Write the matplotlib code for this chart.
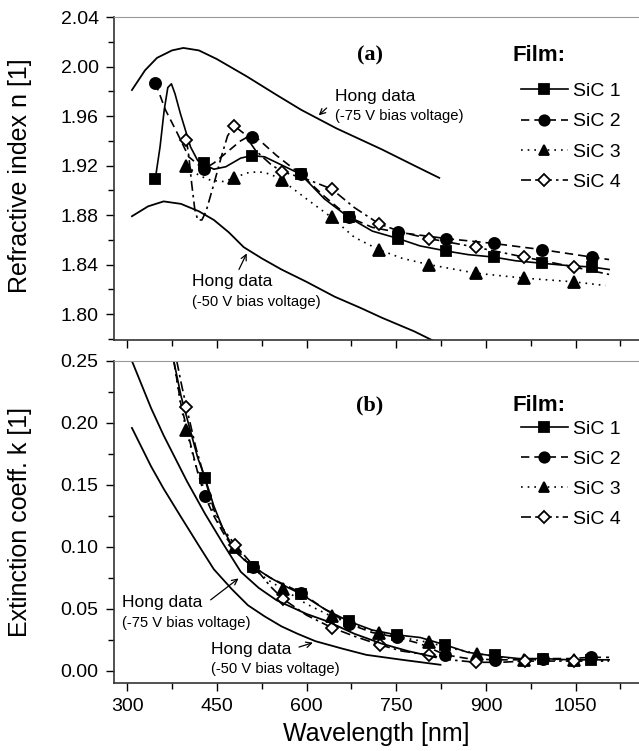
import matplotlib
matplotlib.use('Agg')
import matplotlib.pyplot as plt
from matplotlib.lines import Line2D
from matplotlib.ticker import MultipleLocator, FormatStrFormatter

plt.rcParams['font.family'] = ['Liberation Sans', 'DejaVu Sans']

# ---------- (a) refractive index n ----------
# measured points (markers)
wl_a_12 = [347, 428, 509, 590, 671, 753, 833, 913, 994, 1077]
n_sic1 = [1.909, 1.922, 1.928, 1.913, 1.878, 1.861, 1.851, 1.846, 1.841, 1.838]
n_sic2 = [1.987, 1.917, 1.943, 1.913, 1.878, 1.866, 1.861, 1.857, 1.852, 1.846]
wl_a_34 = [399, 479, 559, 642, 721, 804, 883, 964, 1047]
n_sic3 = [1.920, 1.910, 1.908, 1.878, 1.852, 1.840, 1.833, 1.829, 1.826]
n_sic4 = [1.941, 1.952, 1.915, 1.901, 1.873, 1.861, 1.854, 1.846, 1.838]

# model curves
wl_a_c1 = [347, 355, 362, 368, 374, 380, 389, 406, 418, 428, 445, 465, 490, 509, 530, 560,
           590, 630, 671, 710, 753, 790, 833, 870, 913, 950, 994, 1040, 1077, 1106]
n_c1 = [1.909, 1.935, 1.965, 1.983, 1.986, 1.978, 1.962, 1.935, 1.924, 1.921, 1.917, 1.919,
        1.926, 1.928, 1.927, 1.920, 1.913, 1.893, 1.878, 1.867, 1.861, 1.855, 1.851, 1.848,
        1.846, 1.843, 1.841, 1.839, 1.838, 1.836]
wl_a_c2 = [347, 364, 384, 403, 428, 445, 470, 490, 505, 520, 550, 590, 630, 672, 710, 753,
           833, 913, 994, 1077, 1106]
n_c2 = [1.987, 1.965, 1.946, 1.927, 1.917, 1.922, 1.932, 1.940, 1.944, 1.941, 1.928, 1.913,
        1.895, 1.878, 1.870, 1.866, 1.861, 1.857, 1.852, 1.846, 1.844]
wl_a_c3 = [399, 420, 440, 462, 479, 500, 520, 540, 559, 600, 642, 680, 721, 760, 804, 883,
           964, 1047, 1100]
n_c3 = [1.920, 1.912, 1.908, 1.907, 1.910, 1.914, 1.915, 1.913, 1.908, 1.893, 1.878, 1.862,
        1.852, 1.845, 1.840, 1.833, 1.829, 1.826, 1.823]
wl_a_c4 = [399, 403, 408, 413, 418, 425, 432, 445, 458, 468, 479, 495, 515, 540, 559, 600,
           642, 680, 721, 760, 804, 883, 964, 1047, 1106]
n_c4 = [1.941, 1.928, 1.905, 1.885, 1.876, 1.876, 1.883, 1.905, 1.928, 1.944, 1.952, 1.946,
        1.932, 1.921, 1.915, 1.909, 1.901, 1.886, 1.873, 1.866, 1.861, 1.854, 1.846, 1.838,
        1.832]

# Hong data
wl_hong75_a = [308, 330, 350, 375, 394, 420, 450, 500, 550, 591, 650, 726, 780, 822]
n_hong75 = [1.981, 1.997, 2.007, 2.013, 2.015, 2.013, 2.006, 1.992, 1.977, 1.965, 1.950,
            1.933, 1.920, 1.910]
wl_hong50_a = [308, 335, 361, 390, 420, 445, 470, 495, 525, 558, 600, 647, 690, 726, 780, 822]
n_hong50 = [1.879, 1.887, 1.891, 1.889, 1.883, 1.876, 1.866, 1.854, 1.845, 1.836, 1.826,
            1.814, 1.805, 1.797, 1.786, 1.776]

# ---------- (b) extinction coefficient k ----------
wl_b_12 = [430, 511, 591, 671, 752, 832, 915, 996, 1075]
k_sic1 = [0.156, 0.084, 0.062, 0.040, 0.029, 0.021, 0.013, 0.010, 0.009]
k_sic2 = [0.141, 0.084, 0.063, 0.038, 0.027, 0.013, 0.009, 0.010, 0.011]
wl_b_3 = [399, 480, 561, 642, 721, 804, 885, 964, 1047]
k_sic3 = [0.194, 0.100, 0.066, 0.044, 0.031, 0.023, 0.014, 0.009, 0.009]
wl_b_4 = [399, 480, 561, 642, 723, 804, 883, 966, 1047]
k_sic4 = [0.213, 0.102, 0.058, 0.035, 0.021, 0.013, 0.007, 0.008, 0.008]

wl_b_c12 = [378, 390, 405, 418, 430, 445, 460, 480, 495, 511, 540, 570, 591, 630, 671, 710,
            752, 790, 832, 870, 915, 955, 996, 1040, 1075, 1106]
k_c1 = [0.250, 0.222, 0.195, 0.172, 0.156, 0.133, 0.115, 0.097, 0.090, 0.084, 0.075, 0.067,
        0.062, 0.050, 0.040, 0.033, 0.029, 0.027, 0.021, 0.015, 0.012, 0.010, 0.010, 0.009,
        0.009, 0.009]
k_c2 = [0.250, 0.215, 0.185, 0.160, 0.141, 0.125, 0.112, 0.097, 0.090, 0.084, 0.075, 0.068,
        0.063, 0.050, 0.038, 0.031, 0.027, 0.022, 0.013, 0.010, 0.009, 0.009, 0.010, 0.010,
        0.011, 0.011]
wl_b_c3 = [378, 390, 399, 415, 430, 450, 465, 480, 511, 540, 561, 600, 642, 680, 721, 760,
           804, 845, 885, 925, 964, 1005, 1047, 1106]
k_c3 = [0.250, 0.213, 0.194, 0.165, 0.145, 0.122, 0.108, 0.100, 0.082, 0.072, 0.066, 0.054,
        0.044, 0.037, 0.031, 0.027, 0.023, 0.018, 0.014, 0.011, 0.009, 0.009, 0.009, 0.009]
wl_b_c4 = [383, 390, 399, 415, 430, 445, 460, 480, 511, 540, 561, 600, 642, 680, 723, 760,
           804, 840, 883, 925, 966, 1005, 1047, 1106]
k_c4 = [0.250, 0.233, 0.213, 0.180, 0.155, 0.130, 0.115, 0.102, 0.085, 0.068, 0.058, 0.045,
        0.035, 0.028, 0.021, 0.016, 0.013, 0.009, 0.007, 0.007, 0.008, 0.008, 0.008, 0.008]

wl_hong75_b = [308, 340, 361, 400, 430, 460, 490, 520, 550, 600, 635, 680, 726, 770, 816]
k_hong75 = [0.250, 0.212, 0.190, 0.153, 0.127, 0.103, 0.080, 0.067, 0.057, 0.046, 0.040,
            0.030, 0.022, 0.016, 0.011]
wl_hong50_b = [308, 340, 361, 389, 420, 445, 475, 502, 530, 558, 585, 615, 660, 700, 760, 824]
k_hong50 = [0.196, 0.165, 0.147, 0.125, 0.101, 0.082, 0.066, 0.053, 0.044, 0.036, 0.030,
            0.024, 0.018, 0.013, 0.009, 0.005]

labels = ['SiC 1', 'SiC 2', 'SiC 3', 'SiC 4']
dashes = [None, (5, 3), (1, 3), (6, 2.5, 1.5, 2.5)]
markers = ['s', 'o', '^', 'D']
msizes = [7, 8, 8, 6.5]
mfaces = ['black', 'black', 'black', 'white']

W, H = 639, 751
fig = plt.figure(figsize=(W / 100, H / 100), dpi=100)
ax1 = fig.add_axes([114 / W, 1 - 340 / H, (W - 114) / W, 323 / H])
ax2 = fig.add_axes([114 / W, 1 - 683 / H, (W - 114) / W, 322 / H])


def draw_series(ax, curves, points):
    for i in range(4):
        cx, cy = curves[i]
        px, py = points[i]
        ln, = ax.plot(cx, cy, color='black', lw=1.2)
        if dashes[i] is not None:
            ln.set_dashes(dashes[i])
        ax.plot(px, py, ls='none', marker=markers[i], ms=msizes[i], mfc=mfaces[i],
                mec='black', mew=1.3)


def style_axis(ax):
    ax.set_xlim(278, 1156)
    ax.xaxis.set_major_locator(MultipleLocator(150))
    ax.xaxis.set_minor_locator(MultipleLocator(75))
    ax.tick_params(which='both', direction='out', width=1, labelsize=14, pad=5)
    ax.tick_params(which='major', length=6)
    ax.tick_params(which='minor', length=4)
    ax.spines['right'].set_visible(False)
    ax.spines['top'].set_color('#999999')
    ax.spines['left'].set_color('#333333')
    ax.spines['bottom'].set_color('#333333')
    ax.spines['left'].set_linewidth(1.2)
    ax.spines['bottom'].set_linewidth(1.2)


def legend_box(ax, y_top):
    handles = []
    for i in range(4):
        h = Line2D([], [], color='black', lw=1.2, marker=markers[i], ms=msizes[i] - 0.5,
                   mfc=mfaces[i], mec='black', mew=1.3)
        if dashes[i] is not None:
            h.set_dashes(dashes[i])
        handles.append(h)
    ax.legend(handles, labels, loc='upper left', bbox_to_anchor=(0.775, y_top),
              frameon=False, fontsize=14, handlelength=2.4, handletextpad=0.3,
              labelspacing=0.65, borderpad=0, borderaxespad=0)


# Panel (a)
draw_series(ax1,
            [(wl_a_c1, n_c1), (wl_a_c2, n_c2), (wl_a_c3, n_c3), (wl_a_c4, n_c4)],
            [(wl_a_12, n_sic1), (wl_a_12, n_sic2), (wl_a_34, n_sic3), (wl_a_34, n_sic4)])
ax1.plot(wl_hong75_a, n_hong75, color='black', lw=1.3)
ax1.plot(wl_hong50_a, n_hong50, color='black', lw=1.3)
style_axis(ax1)
ax1.set_ylim(1.779, 2.04)
ax1.yaxis.set_major_locator(MultipleLocator(0.04))
ax1.yaxis.set_minor_locator(MultipleLocator(0.02))
ax1.yaxis.set_major_formatter(FormatStrFormatter('%.2f'))
ax1.tick_params(axis='x', labelbottom=False)

ax1.text(706, 2.009, '(a)', fontsize=16, fontweight='bold', family='Liberation Serif',
         ha='center', va='center')
ax1.text(945, 2.009, 'Film:', fontsize=16, fontweight='bold', ha='left', va='center')
legend_box(ax1, 0.797)

ax1.annotate('', xy=(617, 1.959), xytext=(637, 1.968),
             arrowprops=dict(arrowstyle='->', color='black', lw=0.9))
ax1.text(647, 1.976, 'Hong data', fontsize=12.5, ha='left', va='center')
ax1.text(647, 1.960, '(-75 V bias voltage)', fontsize=10.6, ha='left', va='center')
ax1.annotate('', xy=(502, 1.851), xytext=(485, 1.834),
             arrowprops=dict(arrowstyle='->', color='black', lw=0.9))
ax1.text(409, 1.826, 'Hong data', fontsize=12.5, ha='left', va='center')
ax1.text(409, 1.810, '(-50 V bias voltage)', fontsize=10.6, ha='left', va='center')

# Panel (b)
draw_series(ax2,
            [(wl_b_c12, k_c1), (wl_b_c12, k_c2), (wl_b_c3, k_c3), (wl_b_c4, k_c4)],
            [(wl_b_12, k_sic1), (wl_b_12, k_sic2), (wl_b_3, k_sic3), (wl_b_4, k_sic4)])
ax2.plot(wl_hong75_b, k_hong75, color='black', lw=1.3)
ax2.plot(wl_hong50_b, k_hong50, color='black', lw=1.3)
style_axis(ax2)
ax2.set_ylim(-0.0097, 0.25)
ax2.yaxis.set_major_locator(MultipleLocator(0.05))
ax2.yaxis.set_minor_locator(MultipleLocator(0.025))
ax2.yaxis.set_major_formatter(FormatStrFormatter('%.2f'))
ax2.set_xticks([300, 450, 600, 750, 900, 1050])
ax2.set_xlabel('Wavelength [nm]', fontsize=18, labelpad=5)

ax2.text(706, 0.2145, '(b)', fontsize=16, fontweight='bold', family='Liberation Serif',
         ha='center', va='center')
ax2.text(945, 0.2145, 'Film:', fontsize=16, fontweight='bold', ha='left', va='center')
legend_box(ax2, 0.817)

ax2.annotate('', xy=(490, 0.076), xytext=(436, 0.056),
             arrowprops=dict(arrowstyle='->', color='black', lw=0.9))
ax2.text(291, 0.055, 'Hong data', fontsize=12.5, ha='left', va='center')
ax2.text(291, 0.039, '(-75 V bias voltage)', fontsize=10.6, ha='left', va='center')
ax2.annotate('', xy=(615, 0.0235), xytext=(583, 0.0186),
             arrowprops=dict(arrowstyle='->', color='black', lw=0.9))
ax2.text(440, 0.017, 'Hong data', fontsize=12.5, ha='left', va='center')
ax2.text(440, 0.0016, '(-50 V bias voltage)', fontsize=10.6, ha='left', va='center')

fig.text(20 / W, 1 - 176 / H, 'Refractive index n [1]', rotation=90, fontsize=18,
         ha='center', va='center')
fig.text(20 / W, 1 - 522 / H, 'Extinction coeff. k [1]', rotation=90, fontsize=18,
         ha='center', va='center')

fig.savefig('out.png', dpi=100)
